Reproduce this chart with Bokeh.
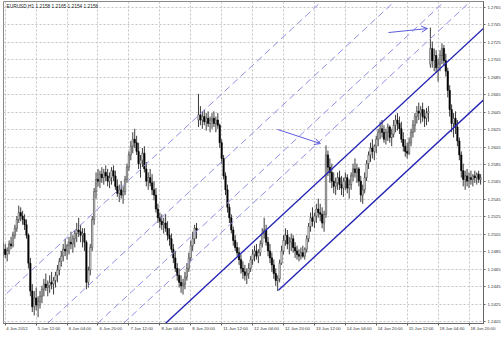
from bokeh.plotting import figure
from bokeh.models import (ColumnDataSource, FixedTicker, Range1d, Arrow, OpenHead,
                          Label, LinearAxis, NumeralTickFormatter)
from bokeh.embed import file_html
from bokeh.resources import INLINE

SYMBOL_TITLE = "EURUSD,H1  1.2158 1.2165 1.2154 1.2156"

# Hourly bars; bar 0 = 4 Jun 2012 00:00, weekend hours are skipped (120 bars per week).
FIRST_BAR = 19
FIRST_OPEN_PIPS = 84
# (high, low, close) of each hourly bar, in pips above 1.2400
hlc_pips = [
    (96, 80, 88), (94, 78, 82), (90, 74, 86), (98, 82, 94), (102, 88, 92),
    (108, 90, 104), (116, 100, 112), (126, 108, 122), (138, 118, 130), (136, 120, 126),
    (132, 116, 122), (128, 110, 116), (122, 100, 104), (106, 66, 72), (78, 34, 40),
    (48, 16, 22), (40, 12, 32), (44, 18, 24), (34, 10, 28), (40, 20, 34),
    (46, 26, 42), (54, 34, 48), (60, 40, 44), (52, 34, 46), (58, 38, 50),
    (62, 42, 48), (56, 36, 52), (62, 44, 58), (70, 50, 64), (78, 58, 74),
    (86, 68, 80), (94, 74, 88), (100, 80, 86), (94, 76, 92), (102, 82, 96),
    (108, 88, 94), (104, 84, 100), (110, 90, 106), (118, 96, 110), (124, 102, 108),
    (116, 96, 104), (112, 90, 106), (112, 86, 96), (98, 42, 50), (68, 44, 64),
    (94, 58, 90), (126, 86, 122), (158, 116, 154), (176, 146, 168), (180, 160, 166),
    (178, 158, 174), (182, 164, 170), (180, 162, 176), (184, 166, 172), (180, 160, 166),
    (176, 158, 170), (182, 162, 178), (184, 166, 172), (178, 156, 160), (168, 148, 152),
    (162, 142, 156), (166, 146, 150), (160, 140, 154), (172, 150, 168), (186, 164, 182),
    (200, 178, 196), (212, 190, 206), (222, 198, 214), (226, 204, 210), (218, 196, 200),
    (210, 180, 186), (196, 170, 190), (204, 182, 198), (206, 176, 180), (188, 160, 166),
    (176, 156, 170), (180, 160, 164), (174, 150, 156), (166, 144, 150), (158, 130, 134),
    (140, 118, 124), (130, 112, 120), (128, 110, 116), (124, 106, 118), (128, 108, 112),
    (120, 98, 104), (112, 92, 100), (106, 84, 88), (94, 72, 78), (86, 62, 66),
    (72, 52, 58), (66, 44, 50), (58, 38, 46), (54, 36, 48), (62, 42, 56),
    (72, 52, 66), (84, 62, 78), (98, 74, 92), (108, 86, 100), (116, 94, 112),
    (118, 100, 110),
    # 11 Jun
    (266, 228, 242), (252, 230, 236), (246, 226, 240), (248, 230, 234), (244, 224, 238),
    (246, 228, 232), (240, 222, 236), (244, 226, 238), (246, 228, 232), (240, 222, 236),
    (244, 226, 230), (232, 204, 210), (214, 186, 192), (196, 168, 172), (176, 150, 156),
    (162, 130, 136), (140, 118, 124), (128, 106, 110), (114, 92, 98), (104, 86, 90),
    (96, 80, 84), (90, 70, 76), (82, 60, 66), (74, 54, 62), (70, 52, 58),
    (66, 48, 60), (72, 54, 66), (80, 62, 76), (88, 70, 82), (92, 74, 86),
    (94, 76, 80), (88, 72, 84), (98, 80, 94), (112, 90, 106), (124, 100, 110),
    (116, 92, 96), (102, 80, 86), (94, 72, 78), (84, 62, 70), (76, 54, 60),
    (66, 46, 52), (58, 40, 54), (76, 50, 72), (92, 70, 86), (104, 82, 98),
    (112, 92, 104), (110, 88, 94), (102, 82, 96), (106, 86, 100), (104, 84, 90),
    (96, 78, 86), (92, 76, 82), (88, 74, 80), (90, 76, 84), (92, 78, 80),
    (90, 76, 88), (104, 84, 100), (118, 96, 114), (130, 108, 124), (136, 114, 120),
    (130, 112, 126), (140, 118, 134), (146, 124, 130), (140, 120, 128), (136, 112, 118),
    (132, 108, 128), (207, 124, 196), (201, 172, 182), (192, 164, 176), (186, 158, 166),
    (176, 152, 160), (170, 150, 164), (176, 156, 170), (178, 156, 162), (172, 150, 158),
    (170, 148, 166), (176, 156, 170), (174, 152, 158), (168, 146, 162), (176, 156, 172),
    (186, 166, 180), (192, 170, 176), (186, 164, 180), (182, 160, 166), (172, 142, 150),
    (162, 140, 156), (176, 152, 170), (190, 166, 186), (200, 180, 196), (210, 188, 204),
    (214, 192, 200), (208, 190, 206), (218, 198, 214), (226, 206, 222), (234, 214, 226),
    (236, 216, 222), (230, 210, 214), (226, 208, 222), (232, 212, 228), (230, 210, 216),
    (226, 206, 220), (236, 216, 230), (242, 222, 236), (244, 224, 232), (240, 220, 226),
    (234, 210, 214), (222, 200, 206), (214, 194, 200), (210, 192, 198), (216, 196, 210),
    (226, 206, 222), (236, 216, 230), (244, 222, 240), (252, 232, 246), (256, 236, 244),
    (252, 232, 248), (256, 234, 240), (248, 228, 238), (250, 230, 244), (252, 234, 246),
    # 18 Jun
    (342, 296, 318), (326, 296, 304), (318, 292, 310), (316, 290, 296), (306, 280, 300),
    (316, 292, 310), (324, 300, 318), (322, 298, 304), (312, 286, 292), (296, 262, 270),
    (276, 240, 248), (254, 222, 232), (244, 216, 238), (246, 220, 228), (236, 206, 212),
    (216, 190, 196), (200, 170, 178), (186, 160, 168), (178, 156, 172), (180, 160, 166),
    (176, 158, 170), (178, 162, 168), (174, 160, 172), (178, 164, 170), (176, 162, 174),
    (178, 164, 168), (174, 162, 170),
]
# opening price (pips) of the first bar after each weekend gap
gap_open_pips = {120: 236, 240: 300}

time_ticks = [20, 36, 52, 68, 84, 100, 116, 132, 148, 164, 180, 196, 212, 228, 244, 260]
time_labels = ["4 Jun 2012", "5 Jun 12:00", "6 Jun 04:00", "6 Jun 20:00", "7 Jun 12:00",
               "8 Jun 04:00", "8 Jun 20:00", "11 Jun 12:00", "12 Jun 04:00", "12 Jun 20:00",
               "13 Jun 12:00", "14 Jun 04:00", "14 Jun 20:00", "15 Jun 12:00",
               "18 Jun 04:00", "18 Jun 20:00"]
price_ticks = [1.2405, 1.2425, 1.2445, 1.2465, 1.2485, 1.2505, 1.2525, 1.2545, 1.2565,
               1.2585, 1.2605, 1.2625, 1.2645, 1.2665, 1.2685, 1.2705, 1.2725, 1.2745,
               1.2765]

# trend channel (two anchor points each)
upper_x = [103.0, 275.0]
upper_y = [1.24030, 1.27565]
lower_x = [161.4, 275.0]
lower_y = [1.24410, 1.26745]
# parallel dashed levels
dash_x0 = [4.1, 41.9, 67.8, 81.2]
dash_y0 = [1.24030, 1.24030, 1.24030, 1.24030]
dash_x1 = [184.1, 221.9, 247.8, 261.2]
dash_y1 = [1.27729, 1.27729, 1.27729, 1.27729]
# arrows pointing at the breakout highs
arrow_x0 = [160.9, 218.3]
arrow_y0 = [1.26252, 1.27363]
arrow_x1 = [183.1, 238.5]
arrow_y1 = [1.26091, 1.27409]

X_MIN, X_MAX = 19.1, 267.5
Y_MIN, Y_MAX = 1.24028, 1.27719
PLOT_W = 480

# ---- build OHLC columns ----
bars, opens, highs, lows, closes = [], [], [], [], []
prev_close = FIRST_OPEN_PIPS
for i, (h, l, c) in enumerate(hlc_pips):
    b = FIRST_BAR + i
    o = gap_open_pips.get(b, prev_close)
    bars.append(b)
    opens.append(1.24 + o / 10000)
    highs.append(1.24 + h / 10000)
    lows.append(1.24 + l / 10000)
    closes.append(1.24 + c / 10000)
    prev_close = c

body_top = [max(o, c) for o, c in zip(opens, closes)]
body_bot = [min(o, c) for o, c in zip(opens, closes)]
fill = ["#ffffff" if c >= o else "#000000" for o, c in zip(opens, closes)]
edge = ["#3c3c3c" if c >= o else "#000000" for o, c in zip(opens, closes)]
src = ColumnDataSource(dict(x=bars, high=highs, low=lows, top=body_top, bottom=body_bot,
                            fill=fill, edge=edge))

p = figure(width=504, height=340, output_backend="svg", toolbar_location=None,
           x_range=Range1d(X_MIN, X_MAX), y_range=Range1d(Y_MIN, Y_MAX),
           y_axis_location="right", min_border_left=3, min_border_right=21,
           min_border_top=1, min_border_bottom=17)
p.background_fill_color = "white"
p.border_fill_color = "white"
p.outline_line_color = "#8a8a8a"

GRID = "#c4c4c4"
p.xgrid.ticker = FixedTicker(ticks=time_ticks)
p.ygrid.ticker = FixedTicker(ticks=price_ticks)
for g in (p.xgrid, p.ygrid):
    g.grid_line_color = GRID
    g.grid_line_dash = "2 2"
    g.grid_line_width = 1

AX_FONT = "Liberation Sans"
AX_SIZE = "4.3px"
AX_COLOR = "#333333"

# price axis on the right
ya = p.yaxis[0]
ya.ticker = FixedTicker(ticks=price_ticks)
ya.formatter = NumeralTickFormatter(format="0.0000")
ya.major_label_text_font = AX_FONT
ya.major_label_text_font_size = AX_SIZE
ya.major_label_text_color = AX_COLOR
ya.major_tick_out = 2
ya.major_tick_in = 0
ya.minor_tick_line_color = None
ya.major_label_standoff = 2
ya.axis_line_color = "#666666"
ya.major_tick_line_color = "#666666"

# time axis: tick marks only
xa = p.xaxis[0]
xa.ticker = FixedTicker(ticks=time_ticks)
xa.major_label_overrides = {t: "" for t in time_ticks}
xa.major_label_text_font_size = "1px"
xa.major_label_standoff = 0
xa.major_tick_out = 2
xa.major_tick_in = 0
xa.minor_tick_line_color = None
xa.axis_line_color = "#666666"
xa.major_tick_line_color = "#666666"

# time labels start at their tick mark
px_per_bar = PLOT_W / (X_MAX - X_MIN)
label_pos = [round(t + (0.5 * 4.3 * 0.5 * len(s) + 1) / px_per_bar, 3)
             for t, s in zip(time_ticks, time_labels)]
la = LinearAxis(ticker=FixedTicker(ticks=label_pos),
                major_label_overrides=dict(zip(label_pos, time_labels)),
                major_tick_out=0, major_tick_in=0, axis_line_color=None,
                minor_tick_line_color=None, major_tick_line_color=None,
                major_label_standoff=0, major_label_text_font=AX_FONT,
                major_label_text_font_size=AX_SIZE, major_label_text_color=AX_COLOR)
p.add_layout(la, "below")

# candles
p.segment(x0="x", y0="low", x1="x", y1="high", source=src, line_color="#3c3c3c", line_width=1)
p.vbar(x="x", width=0.7, top="top", bottom="bottom", source=src,
       fill_color="fill", line_color="edge", line_width=0.6)

# channel lines
p.segment(x0=dash_x0, y0=dash_y0, x1=dash_x1, y1=dash_y1, line_color="#8f8fe6",
          line_width=1, line_dash="7 4")
p.line(upper_x, upper_y, line_color="#2323b4", line_width=1.4)
p.line(lower_x, lower_y, line_color="#2323b4", line_width=1.4)

ARROW_C = "#5c5cdc"
asrc = ColumnDataSource(dict(x0=arrow_x0, y0=arrow_y0, x1=arrow_x1, y1=arrow_y1))
p.add_layout(Arrow(end=OpenHead(size=6, line_color=ARROW_C, line_width=1),
                   x_start="x0", y_start="y0", x_end="x1", y_end="y1", source=asrc,
                   line_color=ARROW_C, line_width=1))

p.add_layout(Label(x=3, y=317, x_units="screen", y_units="screen", text=SYMBOL_TITLE,
                   text_font=AX_FONT, text_font_size="4.8px", text_color="#222222",
                   text_baseline="middle"))

open("out.html", "w").write(file_html(p, INLINE))
